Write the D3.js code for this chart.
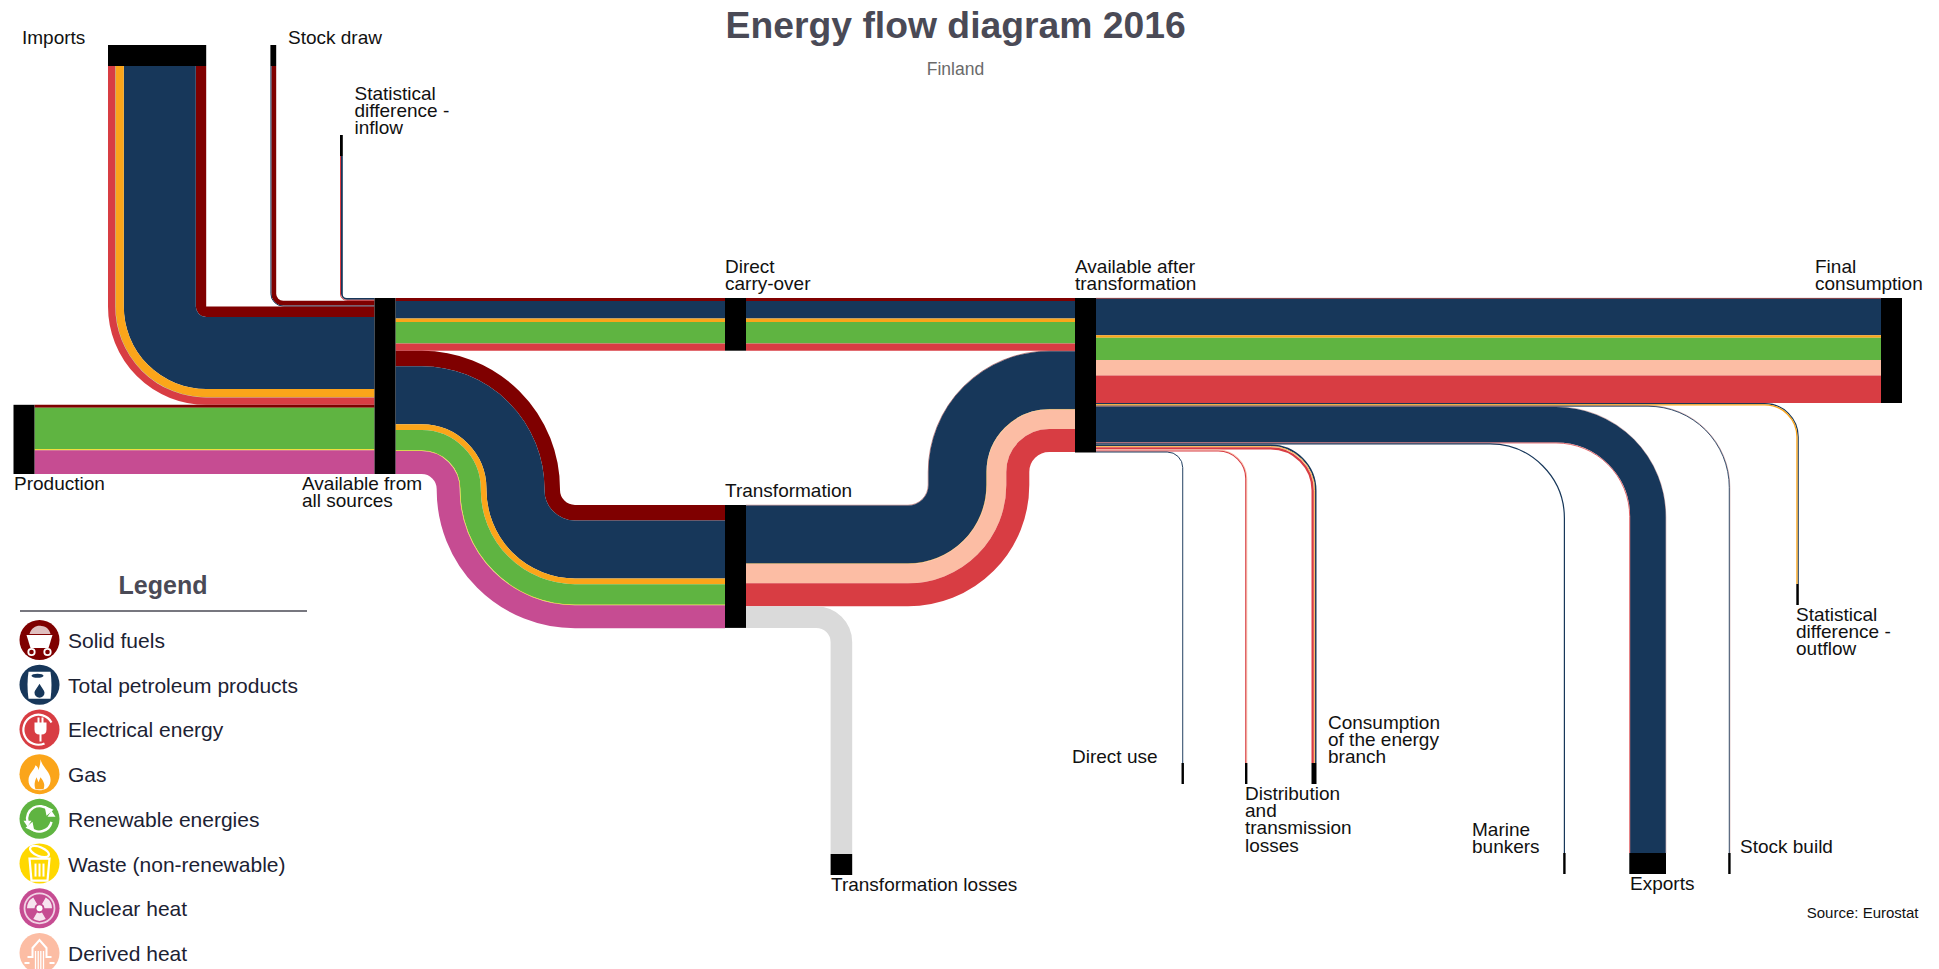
<!DOCTYPE html>
<html>
<head>
<meta charset="utf-8">
<title>Energy flow diagram 2016</title>
<script src="https://cdn.jsdelivr.net/npm/d3@7/dist/d3.min.js"></script>
<style>
html,body{margin:0;padding:0;background:#fff;overflow:hidden}
svg{display:block}
text{font-family:"Liberation Sans",Arial,sans-serif}
</style>
</head>
<body>
<svg id="chart" width="1939" height="969"></svg>
<script>
// ---------- DATA (approx. ktoe) ----------
const fuels = ["Solid fuels","Total petroleum products","Gas","Renewable energies","Waste (non-renewable)","Nuclear heat","Derived heat","Electrical energy","Losses"];
const fuelColors = ["#7f0000","#17375a","#fba51a","#5fb441","#ffd800","#c64c92","#fcbda4","#d83d43","#dadada"];
const legendOrder = ["Solid fuels","Total petroleum products","Electrical energy","Gas","Renewable energies","Waste (non-renewable)","Nuclear heat","Derived heat"];
//                          solid  petr   gas  renew waste nucl  deriv elec  loss
const statIn             = [    0,  360,    0,    0,   0,    0,    0,  200,    0];
const stockDraw          = [  960,  200,    0,    0,   0,    0,    0,    0,    0];
const imports            = [ 2080,14400, 1640,   60,   0,    0,    0, 1460,    0];
const production         = [  600,    0,    0, 8300, 200, 4740,    0,    0,    0];
const carryOver          = [  600, 3480,  720, 4320,   0,    0,    0, 1420,    0];
const toTransformation   = [ 3100,11600, 1140, 4100, 120, 4600,    0,    0,    0];
const fromTransformation = [  100,11600,  100,    0,   0,    0, 3860, 4600,    0];
const transfLosses       = [    0,    0,    0,    0,   0,    0,    0,    0, 4320];
const finalConsumption   = [  160, 7300,  500, 4440,   0,    0, 3100, 5500,    0];
const statOut            = [    0,  240,  260,    0,   0,    0,    0,    0,    0];
const stockBuild         = [   60,  170,    0,    0,   0,    0,    0,    0,    0];
const exportsOut         = [   60, 7120,    0,    0,   0,    0,    0,  160,    0];
const marineBunkers      = [    0,  240,    0,    0,   0,    0,    0,    0,    0];
const energyBranch       = [    0,  300,  160,    0,   0,    0,   80,  460,    0];
const distribution       = [    0,    0,    0,    0,   0,    0,  180,  220,    0];
const directUse          = [    0,  190,    0,    0,   0,    0,    0,    0,    0];

// ---------- SCALE AND LAYOUT ----------
const w = d3.scaleLinear().domain([0, 35200]).range([0, 176]);
const bandOf = v => w(d3.sum(v));
const svg = d3.select("#chart");
const gFlows = svg.append("g").attr("fill","none");
const gNodes = svg.append("g").attr("fill","#000");
const gText  = svg.append("g");

const NODE = 21;          // thickness of the black bars along the flow
const MIN_BAR = 2.4;      // thinnest black bar
const AFAS = {x:374.5, top:298}, PROD = {x:13.5};
const DCO = {x:725, top:298}, TRANS = {x:725, top:505};
const AAT = {x:1075, top:298}, FINAL = {x:1881};

function polyPath(points, radii){
  const p = d3.path();
  p.moveTo(points[0][0], points[0][1]);
  for(let i=1;i<points.length-1;i++){
    const r = radii[i-1];
    p.arcTo(points[i][0],points[i][1],points[i+1][0],points[i+1][1],Math.max(r,0.01));
  }
  const e = points[points.length-1];
  p.lineTo(e[0],e[1]);
  return p.toString();
}
function ribbons(values, route){
  let off = 0;
  values.forEach((v,i)=>{
    if(!v) return;
    const t = w(v), c = off + t/2;
    const r = route(c);
    gFlows.append("path").attr("d",polyPath(r.pts,r.rad))
      .attr("stroke",fuelColors[i]).attr("stroke-width",t).attr("stroke-linecap","butt");
    off += t;
  });
}
const bar = (x,y,wd,h)=>gNodes.append("rect").attr("x",x).attr("y",y).attr("width",wd).attr("height",h);

// ---- inflows to "Available from all sources"
let yIn = AFAS.top;
function fromTop(values, xRight, yBarTop, r0){
  const band = bandOf(values), yT = yIn, yStart = yBarTop + NODE;
  const bw = Math.max(band, MIN_BAR);
  bar(xRight-bw, yBarTop, bw, NODE);
  ribbons(values, c=>({pts:[[xRight-c,yStart],[xRight-c,yT+c],[AFAS.x,yT+c]], rad:[r0+c]}));
  yIn += band;
}
fromTop(statIn,   342.8, 135, 4);
fromTop(stockDraw,276.2, 45, 7);
fromTop(imports,  206.2, 45, 0);
// Production
{
  const band = bandOf(production), yT = yIn;
  bar(PROD.x, yT, NODE, band);
  ribbons(production, c=>({pts:[[PROD.x+NODE,yT+c],[AFAS.x,yT+c]], rad:[]}));
  yIn += band;
}
bar(AFAS.x, AFAS.top, NODE, yIn-AFAS.top);

// ---- outflows from "Available from all sources"
let yOut = AFAS.top;
{
  const yT = yOut;
  ribbons(carryOver, c=>({pts:[[AFAS.x+NODE,yT+c],[DCO.x,yT+c]], rad:[]}));
  ribbons(carryOver, c=>({pts:[[DCO.x+NODE,yT+c],[AAT.x,yT+c]], rad:[]}));
  bar(DCO.x, yT, NODE, bandOf(carryOver));
  yOut += bandOf(carryOver);
}
{
  const yT = yOut, band = bandOf(toTransformation), r0 = 15, vx = 560;
  ribbons(toTransformation, c=>({
    pts:[[AFAS.x+NODE,yT+c],[vx-c,yT+c],[vx-c,TRANS.top+c],[TRANS.x,TRANS.top+c]],
    rad:[r0+band-c, r0+c]}));
}
// ---- out of "Transformation"
{
  const band = bandOf(fromTransformation), r0 = 20, vx = 928, yA = AFAS.top+bandOf(carryOver);
  ribbons(fromTransformation, c=>({
    pts:[[TRANS.x+NODE,TRANS.top+c],[vx+c,TRANS.top+c],[vx+c,yA+c],[AAT.x,yA+c]],
    rad:[r0+c, r0+band-c]}));
  const yL = TRANS.top+band, yE = 854, xR = 852.2, R = 36;
  ribbons(transfLosses, c=>({
    pts:[[TRANS.x+NODE,yL+c],[xR-c,yL+c],[xR-c,yE]], rad:[R-c]}));
  const lb = bandOf(transfLosses);
  bar(xR-lb, yE, lb, NODE);
  bar(TRANS.x, TRANS.top, NODE, band+lb);
}
// ---- out of "Available after transformation"
let yA = AAT.top;
{
  const yT = yA;
  ribbons(finalConsumption, c=>({pts:[[AAT.x+NODE,yT+c],[FINAL.x,yT+c]], rad:[]}));
  bar(FINAL.x, yT, NODE, bandOf(finalConsumption));
  yA += bandOf(finalConsumption);
}
function toBottom(values, xRight, yEnd, R){
  const band = bandOf(values), yT = yA;
  ribbons(values, c=>({pts:[[AAT.x+NODE,yT+c],[xRight-c,yT+c],[xRight-c,yEnd]], rad:[R-c]}));
  const bw = Math.max(band, MIN_BAR);
  bar(xRight-bw+(bw-band)/2, yEnd, bw, NODE);
  yA += band;
}
toBottom(statOut,      1798.8, 584, 34);
toBottom(stockBuild,   1730,   853, 82);
toBottom(exportsOut,   1666,   853, 110);
toBottom(marineBunkers,1565,   853, 75);
toBottom(energyBranch, 1316.5, 763, 46);
toBottom(distribution, 1247.2, 763, 29);
toBottom(directUse,    1183.2, 763, 16);
bar(AAT.x, AAT.top, NODE, yA-AAT.top);

// ---------- TEXT ----------
const labels = [
  [["Imports"],22,44],
  [["Stock draw"],288,44],
  [["Statistical","difference -","inflow"],354.5,100],
  [["Production"],14,490],
  [["Available from","all sources"],302,490],
  [["Direct","carry-over"],725,273],
  [["Available after","transformation"],1075,273],
  [["Final","consumption"],1815,273],
  [["Transformation"],725,497],
  [["Transformation losses"],831,891],
  [["Direct use"],1072,763],
  [["Distribution","and","transmission","losses"],1245,800],
  [["Consumption","of the energy","branch"],1328,729],
  [["Marine","bunkers"],1472,836],
  [["Exports"],1630,890],
  [["Stock build"],1740,853],
  [["Statistical","difference -","outflow"],1796,621]
];
labels.forEach(([lines,x,y])=>{
  lines.forEach((s,i)=>gText.append("text").attr("x",x).attr("y",y+i*17.2)
    .attr("font-size",19).attr("fill","#111").text(s));
});
gText.append("text").attr("x",955.7).attr("y",38).attr("text-anchor","middle")
  .attr("font-size",37.3).attr("font-weight","bold").attr("fill","#4a4a56").text("Energy flow diagram 2016");
gText.append("text").attr("x",955.5).attr("y",75).attr("text-anchor","middle")
  .attr("font-size",17.5).attr("fill","#6a6a6a").text("Finland");
gText.append("text").attr("x",1918.5).attr("y",918).attr("text-anchor","end")
  .attr("font-size",15).attr("fill","#111").text("Source: Eurostat");

// ---------- LEGEND ----------
const gLeg = svg.append("g");
gLeg.append("text").attr("x",163).attr("y",594).attr("text-anchor","middle")
  .attr("font-size",25).attr("font-weight","bold").attr("fill","#4a4a56").text("Legend");
gLeg.append("line").attr("x1",20).attr("x2",307).attr("y1",611).attr("y2",611)
  .attr("stroke","#77777f").attr("stroke-width",2);

const legendY = d3.scalePoint().domain(legendOrder).range([640,953]);
const icons = {
  "Solid fuels": g=>{
    g.append("path").attr("d","M-13,-5 H13 L9,8 H-9 Z").attr("fill","#fff");
    g.append("path").attr("d","M-10,-6 C-8,-13 -2,-15 2,-14 C7,-14 10,-10 11,-6 Z").attr("fill","#fff").attr("opacity",.75);
    [-8,8].forEach(x=>g.append("circle").attr("cx",x).attr("cy",12).attr("r",3.2).attr("fill","none").attr("stroke","#fff").attr("stroke-width",1.8));
  },
  "Total petroleum products": g=>{
    g.append("path").attr("d","M-11,-13 H11 Q13,0 11,14 H-11 Q-13,0 -11,-13 Z").attr("fill","#fff");
    g.append("ellipse").attr("cx",-2).attr("cy",-9).attr("rx",6).attr("ry",2).attr("fill","#17375a");
    g.append("path").attr("d","M0,-1 C3,4 5,6 5,8 A5,5 0 0 1 -5,8 C-5,6 -3,4 0,-1 Z").attr("fill","#17375a");
  },
  "Electrical energy": g=>{
    g.append("path").attr("d","M5,14 A15,15 0 1 1 12,-7").attr("fill","none").attr("stroke","#fff").attr("stroke-width",2.2);
    g.append("path").attr("d","M-5,-7 H-2 V-12 H0 V-7 H2 V-12 H4 V-7 H7 V0 Q7,5 2,5 V12 H0 V5 Q-5,5 -5,0 Z").attr("fill","#fff");
  },
  "Gas": g=>{
    g.append("path").attr("d","M1,-15 C3,-6 12,-2 11,7 C10,14 5,16 0,16 C-6,16 -11,13 -11,6 C-11,-1 -5,-4 -4,-9 C-2,-8 -1,-6 -1,-4 C0,-7 1,-11 1,-15 Z").attr("fill","#fff");
    g.append("path").attr("d","M-4,15 C-6,9 -4,6 -3,3 L-1,8 L1,3 C4,7 6,10 4,15 Z").attr("fill","#fba51a");
  },
  "Renewable energies": g=>{
    g.append("path").attr("d","M-12,3 A12.5,12.5 0 0 1 9,-9").attr("fill","none").attr("stroke","#fff").attr("stroke-width",2.4);
    g.append("path").attr("d","M12,3 A12.5,12.5 0 0 1 -9,9").attr("fill","none").attr("stroke","#fff").attr("stroke-width",2.4);
    g.append("path").attr("d","M5,-13 L14,-9 L7,-3 Z M-5,13 L-14,9 L-7,3 Z").attr("fill","#fff");
    g.append("path").attr("d","M-16,2 H-8 L-12,8 Z M16,-2 H8 L12,-8 Z").attr("fill","#fff");
  },
  "Waste (non-renewable)": g=>{
    g.append("path").attr("d","M-10,-5 H10 L8,17 H-8 Z").attr("fill","none").attr("stroke","#fff").attr("stroke-width",2.2);
    [-4,0,4].forEach(x=>g.append("line").attr("x1",x).attr("x2",x).attr("y1",0).attr("y2",13).attr("stroke","#fff").attr("stroke-width",2));
    g.append("ellipse").attr("cx",0).attr("cy",-12).attr("rx",10).attr("ry",4.5).attr("transform","rotate(22 0 -12)").attr("fill","none").attr("stroke","#fff").attr("stroke-width",2.2);
  },
  "Nuclear heat": g=>{
    g.append("circle").attr("r",15).attr("fill","none").attr("stroke","#fff").attr("stroke-opacity",.75).attr("stroke-width",1.8);
    g.append("circle").attr("r",3).attr("fill","#fff");
    const seg = d3.arc().innerRadius(5).outerRadius(12.5);
    [0,120,240].forEach(a=>g.append("path").attr("fill","#fff").attr("fill-opacity",.85)
      .attr("d",seg({startAngle:(a+150)*Math.PI/180,endAngle:(a+210)*Math.PI/180})));
  },
  "Derived heat": g=>{
    g.append("path").attr("d","M-12,4 H-7 V-5 L0,-13 L7,-5 V4 H12").attr("fill","none").attr("stroke","#fff").attr("stroke-width",2);
    g.append("path").attr("d","M-15,10 H-10 M10,10 H15").attr("stroke","#fff").attr("stroke-width",2);
    [-4,-1.3,1.3,4].forEach(x=>g.append("line").attr("x1",x).attr("x2",x).attr("y1",-2).attr("y2",17).attr("stroke","#fff").attr("stroke-width",1.3));
  }
};
legendOrder.forEach(name=>{
  const y = legendY(name), col = fuelColors[fuels.indexOf(name)];
  const g = gLeg.append("g").attr("transform",`translate(39.5,${y})`);
  g.append("circle").attr("r",20).attr("fill",col);
  icons[name](g);
  gLeg.append("text").attr("x",68).attr("y",y+8).attr("font-size",21)
    .attr("fill","#1c2233").text(name);
});
</script>
</body>
</html>
